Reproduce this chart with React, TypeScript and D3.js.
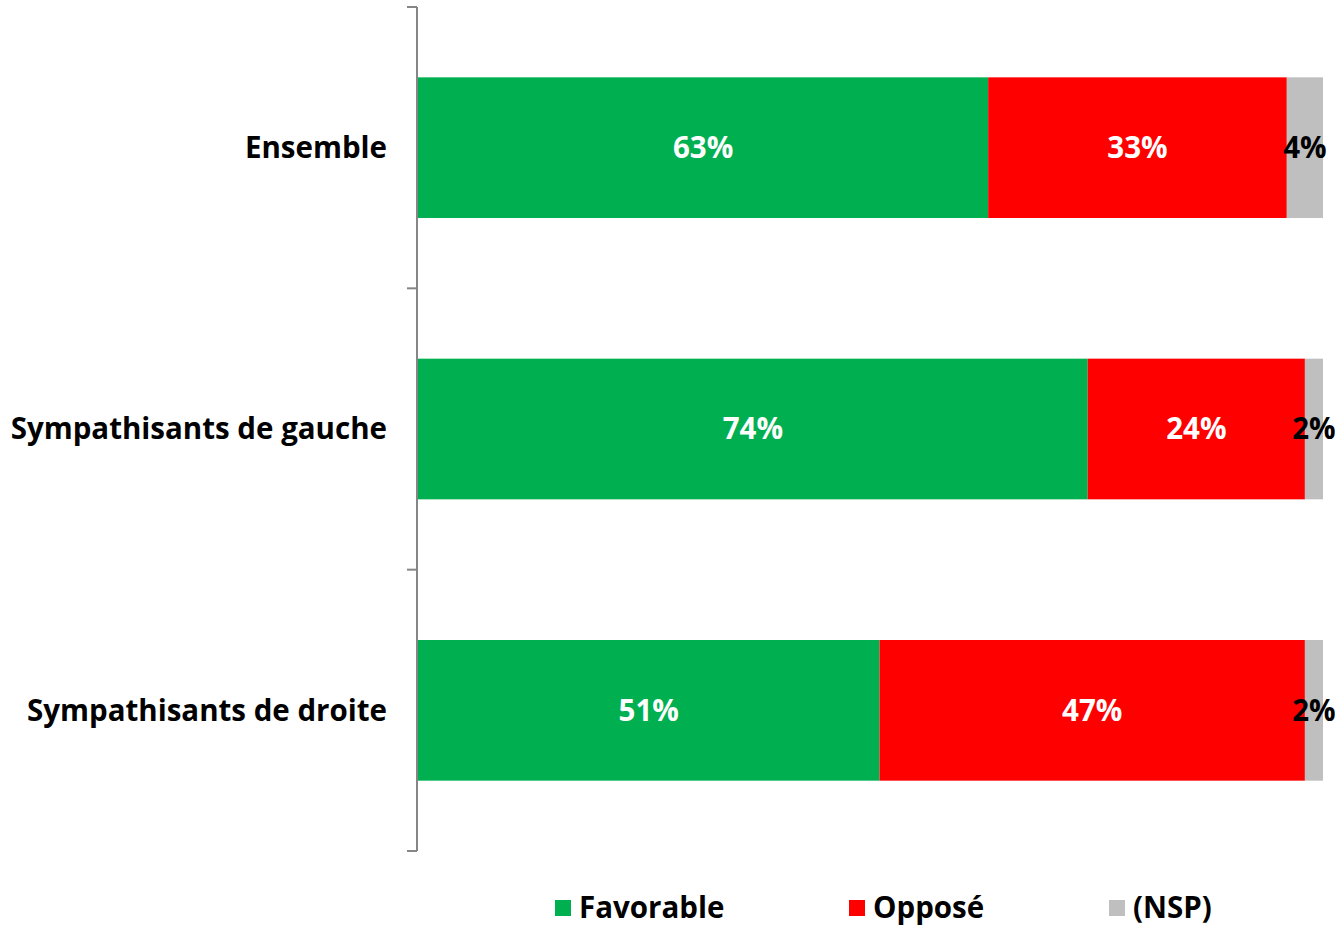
import React from "react";
import * as d3 from "d3";

const categories = ["Ensemble", "Sympathisants de gauche", "Sympathisants de droite"];
const favorable = [63, 74, 51];
const oppose = [33, 24, 47];
const nsp = [4, 2, 2];
const seriesNames = ["Favorable", "Opposé", "(NSP)"];
const seriesColors = ["#00B050", "#FF0000", "#BFBFBF"];
const labelColors = ["#FFFFFF", "#FFFFFF", "#000000"];

const W = 1335;
const H = 926;
const FONT = "'Open Sans', 'DejaVu Sans', sans-serif";

export default function App() {
  const x = d3.scaleLinear().domain([0, 100]).range([418, 1323]);
  const y = d3.scaleBand().domain(categories).range([7, 851]).paddingInner(0.5).paddingOuter(0.25);
  const yAxis = d3.scaleBand().domain(categories).range([7, 851]);
  const rows = categories.map((c, i) => [favorable[i], oppose[i], nsp[i]]);
  const stacked = rows.map((vals) => {
    let acc = 0;
    return vals.map((v) => {
      const s = acc;
      acc += v;
      return [s, acc, v];
    });
  });
  const tickYs = [...categories.map((c) => yAxis(c)!), 851];
  const legendX = [555, 849, 1109];

  return (
    <svg width={W} height={H} style={{ position: "absolute", left: 0, top: 0 }}>
      <rect width={W} height={H} fill="#fff" />
      {categories.map((c, i) => (
        <g key={c}>
          {stacked[i].map(([s, e, v], j) => (
            <rect
              key={j}
              x={x(s)}
              y={y(c)}
              width={x(e) - x(s)}
              height={y.bandwidth()}
              fill={seriesColors[j]}
            />
          ))}
          {stacked[i].map(([s, e, v], j) => (
            <text
              key={"t" + j}
              x={(x(s) + x(e)) / 2}
              y={y(c)! + y.bandwidth() / 2}
              dy="0.35em"
              textAnchor="middle"
              fill={labelColors[j]}
              fontFamily={FONT}
              fontWeight="bold"
              fontSize={29.5}
            >
              {v}%
            </text>
          ))}
          <text
            x={387}
            y={y(c)! + y.bandwidth() / 2}
            dy="0.35em"
            textAnchor="end"
            fill="#000"
            fontFamily={FONT}
            fontWeight="bold"
            fontSize={29.5}
          >
            {c}
          </text>
        </g>
      ))}
      <line x1={417} x2={417} y1={7} y2={851} stroke="#868686" strokeWidth={2} />
      {tickYs.map((t, i) => (
        <line key={i} x1={407} x2={417} y1={t} y2={t} stroke="#868686" strokeWidth={2} />
      ))}
      {seriesNames.map((n, i) => (
        <g key={n}>
          <rect x={legendX[i]} y={900} width={16} height={16} fill={seriesColors[i]} />
          <text
            x={legendX[i] + 24}
            y={908}
            dy="0.35em"
            fill="#000"
            fontFamily={FONT}
            fontWeight="bold"
            fontSize={29.5}
          >
            {n}
          </text>
        </g>
      ))}
    </svg>
  );
}
